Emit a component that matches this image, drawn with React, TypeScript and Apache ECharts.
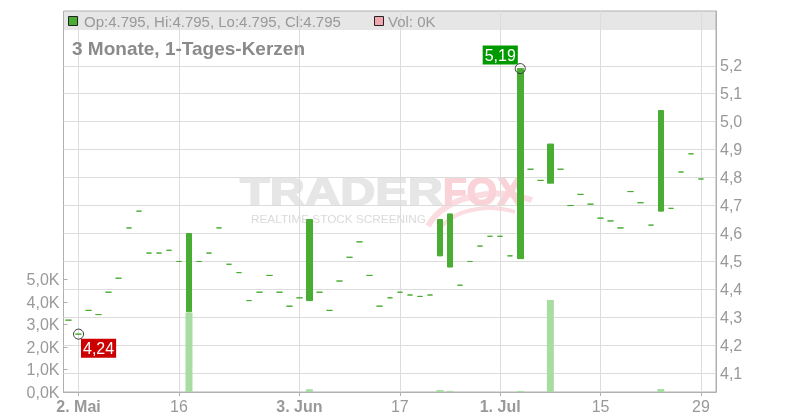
import React, { useEffect, useRef } from "react";
import * as echarts from "echarts";

const dates = [
  "30.04", "02.05", "03.05", "06.05", "07.05", "08.05", "09.05", "10.05", "13.05", "14.05",
  "15.05", "16.05", "17.05", "20.05", "21.05", "22.05", "23.05", "24.05", "27.05", "28.05",
  "29.05", "30.05", "31.05", "03.06", "04.06", "05.06", "06.06", "07.06", "10.06", "11.06",
  "12.06", "13.06", "14.06", "17.06", "18.06", "19.06", "20.06", "21.06", "24.06", "25.06",
  "26.06", "27.06", "28.06", "01.07", "02.07", "03.07", "04.07", "05.07", "08.07", "09.07",
  "10.07", "11.07", "12.07", "15.07", "16.07", "17.07", "18.07", "19.07", "22.07", "23.07",
  "24.07", "25.07", "26.07", "29.07", "30.07",
];

const opens = [
  4.29, 4.24, 4.325, 4.31, 4.39, 4.44, 4.62, 4.68, 4.53, 4.53,
  4.54, 4.5, 4.32, 4.5, 4.53, 4.62, 4.49, 4.46, 4.36, 4.39,
  4.45, 4.39, 4.34, 4.37, 4.36, 4.39, 4.325, 4.43, 4.515, 4.57,
  4.45, 4.34, 4.37, 4.39, 4.38, 4.375, 4.38, 4.52, 4.48, 4.415,
  4.5, 4.555, 4.59, 4.59, 4.52, 4.51, 4.83, 4.79, 4.78, 4.83,
  4.7, 4.74, 4.705, 4.655, 4.645, 4.62, 4.75, 4.71, 4.63, 4.68,
  4.69, 4.82, 4.885, 4.795,
];

const closes = [
  4.29, 4.24, 4.325, 4.31, 4.39, 4.44, 4.62, 4.68, 4.53, 4.53,
  4.54, 4.5, 4.6, 4.5, 4.53, 4.62, 4.49, 4.46, 4.36, 4.39,
  4.45, 4.39, 4.34, 4.37, 4.65, 4.39, 4.325, 4.43, 4.515, 4.57,
  4.45, 4.34, 4.37, 4.39, 4.38, 4.375, 4.38, 4.65, 4.67, 4.415,
  4.5, 4.555, 4.59, 4.59, 4.52, 5.19, 4.83, 4.79, 4.92, 4.83,
  4.7, 4.74, 4.705, 4.655, 4.645, 4.62, 4.75, 4.71, 4.63, 5.04,
  4.69, 4.82, 4.885, 4.795,
];

const volumesK = [
  0, 0, 0, 0, 0, 0, 0, 0, 0, 0,
  0, 0, 3.53, 0, 0, 0, 0, 0, 0, 0,
  0, 0, 0, 0, 0.12, 0, 0, 0, 0, 0,
  0, 0, 0, 0, 0, 0, 0, 0.09, 0.05, 0,
  0, 0, 0, 0, 0, 0.05, 0, 0, 4.1, 0,
  0, 0, 0, 0, 0, 0, 0, 0, 0, 0.13,
  0, 0, 0, 0,
];

const priceTicks = [4.1, 4.2, 4.3, 4.4, 4.5, 4.6, 4.7, 4.8, 4.9, 5.0, 5.1, 5.2];
const xLabelDates = ["02.05", "16.05", "03.06", "17.06", "01.07", "15.07", "29.07"];
const xLabelTexts = ["2. Mai", "16", "3. Jun", "17", "1. Jul", "15", "29"];
const xLabelBold = [true, false, true, false, true, false, false];

const FONT = "'Liberation Sans', Arial, sans-serif";
const GREEN = "#49ad33";
const AXIS = "#b0b0b0";
const LABEL = "#999999";
const GRIDLINE = "#dcdcdc";

export default function App() {
  const ref = useRef<HTMLDivElement>(null);

  useEffect(() => {
    const chart = echarts.init(ref.current!, null, { renderer: "svg" });

    const candles = opens.map((o, i) => {
      const c = closes[i];
      return [o, c, Math.min(o, c), Math.max(o, c)];
    });
    const highs = candles.map((d) => d[3]);
    const lows = candles.map((d) => d[2]);
    const hiVal = Math.max(...highs);
    const loVal = Math.min(...lows);
    const hiIdx = highs.indexOf(hiVal);
    const loIdx = lows.indexOf(loVal);
    const comma = (v: number, d: number) => v.toFixed(d).replace(".", ",");

    const lastIdx = opens.length - 1;
    const legendText = `Op:${opens[lastIdx].toFixed(3)}, Hi:${highs[lastIdx].toFixed(3)}, Lo:${lows[lastIdx].toFixed(3)}, Cl:${closes[lastIdx].toFixed(3)}`;
    const volText = `Vol: ${Math.round(volumesK[lastIdx])}K`;

    const labelMap: Record<string, number> = {};
    xLabelDates.forEach((d, i) => (labelMap[d] = i));
    const isLabel = (_i: number, v: string) => v in labelMap;

    const option: any = {
      animation: false,
      grid: [
        {
          left: 63.5, right: 84, top: 11, bottom: 28,
          show: true, borderColor: AXIS, borderWidth: 1, backgroundColor: "transparent",
        },
        { left: 63.5, right: 84, top: 279.7, bottom: 28, show: false },
      ],
      xAxis: [
        {
          type: "category", gridIndex: 0, data: dates, boundaryGap: true,
          axisLine: { show: true, lineStyle: { color: AXIS } },
          axisTick: {
            show: true, alignWithLabel: true, length: 4,
            interval: isLabel, lineStyle: { color: AXIS },
          },
          axisLabel: {
            interval: isLabel, margin: 6, color: LABEL, fontSize: 16, fontFamily: FONT,
            formatter: (v: string) => {
              const k = labelMap[v];
              if (k === undefined) return "";
              return xLabelBold[k] ? `{b|${xLabelTexts[k]}}` : xLabelTexts[k];
            },
            rich: { b: { fontWeight: "bold", color: LABEL, fontSize: 16, fontFamily: FONT } },
          },
          splitLine: { show: false },
        },
        { type: "category", gridIndex: 1, data: dates, boundaryGap: true, show: false },
      ],
      yAxis: [
        {
          type: "value", gridIndex: 0, position: "right", min: 4.033, max: 5.396,
          minInterval: 0.1, maxInterval: 0.1,
          axisLine: { show: true, lineStyle: { color: AXIS } },
          axisTick: { show: true, inside: true, length: 4, customValues: priceTicks, lineStyle: { color: AXIS } },
          axisLabel: {
            customValues: priceTicks, margin: 4, color: LABEL, fontSize: 16, fontFamily: FONT,
            formatter: (v: number) => (v < 4.05 || v > 5.25 ? "" : comma(v, 1)),
          },
          splitLine: { show: false },
        },
        {
          type: "value", gridIndex: 1, position: "left", min: 0, max: 5, interval: 1,
          axisLine: { show: false },
          axisTick: { show: true, inside: true, length: 4, lineStyle: { color: AXIS } },
          axisLabel: {
            margin: 4, color: LABEL, fontSize: 16, fontFamily: FONT,
            formatter: (v: number) => comma(v, 1) + "K",
          },
          splitLine: { show: false },
        },
      ],
      graphic: [
        { type: "rect", z: -10, shape: { x: 63.5, y: 11, width: 652.5, height: 19 }, style: { fill: "#e6e6e6" } },
        {
          type: "bezierCurve", z: -9,
          shape: { x1: 428, y1: 226, cpx1: 445, cpy1: 196, cpx2: 495, cpy2: 186, x2: 532, y2: 200 },
          style: { stroke: "#fbdde1", lineWidth: 6, fill: "none" },
        },
        {
          type: "bezierCurve", z: -9,
          shape: { x1: 442, y1: 226, cpx1: 458, cpy1: 208, cpx2: 492, cpy2: 204, x2: 515, y2: 212 },
          style: { stroke: "#fbdde1", lineWidth: 4, fill: "none" },
        },
        {
          type: "text", z: -8, x: 240, y: 191, scaleX: 1.25,
          style: {
            text: "TRADER", font: `bold 39px ${FONT}`, fill: "#e6e6e6", stroke: "#e6e6e6", lineWidth: 1.5,
            verticalAlign: "middle", textVerticalAlign: "middle",
          },
        },
        {
          type: "text", z: -8, x: 443, y: 191,
          style: {
            text: "FOX", font: `bold 39px ${FONT}`, fill: "#fad3d8", stroke: "#fad3d8", lineWidth: 1.5,
            verticalAlign: "middle", textVerticalAlign: "middle",
          },
        },
        {
          type: "text", z: -8, x: 251, y: 219.5, scaleX: 1.18,
          style: { text: "REALTIME STOCK SCREENING", font: `10px ${FONT}`, fill: "#dadada", verticalAlign: "middle", textVerticalAlign: "middle" },
        },
        { type: "rect", z: 10, shape: { x: 68.5, y: 16.5, width: 9, height: 9 }, style: { fill: GREEN, stroke: "#222", lineWidth: 1 } },
        {
          type: "text", z: 10, x: 84, y: 21.5,
          style: { text: legendText, font: `15px ${FONT}`, fill: LABEL, verticalAlign: "middle", textVerticalAlign: "middle" },
        },
        { type: "rect", z: 10, shape: { x: 374.5, y: 16.5, width: 9, height: 9 }, style: { fill: "#f2a7b0", stroke: "#222", lineWidth: 1 } },
        {
          type: "text", z: 10, x: 388, y: 21.5,
          style: { text: volText, font: `15px ${FONT}`, fill: LABEL, verticalAlign: "middle", textVerticalAlign: "middle" },
        },
        {
          type: "text", z: 10, x: 72, y: 48,
          style: { text: "3 Monate, 1-Tages-Kerzen", font: `bold 19px ${FONT}`, fill: "#8a8a8a", verticalAlign: "middle", textVerticalAlign: "middle" },
        },
      ],
      series: [
        {
          type: "line", xAxisIndex: 0, yAxisIndex: 0, data: [], silent: true, z: 1,
          markLine: {
            z: 1, silent: true, symbol: ["none", "none"], animation: false,
            label: { show: false },
            emphasis: { disabled: true },
            lineStyle: { color: GRIDLINE, width: 1, type: "solid" },
            data: [
              ...priceTicks.map((v) => ({ yAxis: v })),
              ...xLabelDates.map((d) => ({ xAxis: d })),
            ],
          },
        },
        {
          type: "bar", xAxisIndex: 1, yAxisIndex: 1, data: volumesK, barWidth: 7, z: 2,
          itemStyle: { color: "#a9dca2" }, silent: true,
        },
        {
          type: "candlestick", xAxisIndex: 0, yAxisIndex: 0, data: candles, barWidth: 6, z: 3,
          itemStyle: { color: GREEN, color0: GREEN, borderColor: GREEN, borderColor0: GREEN, borderWidth: 1 },
          markPoint: {
            symbol: "circle", symbolSize: 10, z: 5,
            itemStyle: { color: "rgba(0,0,0,0)", borderColor: "#333", borderWidth: 1 },
            label: {
              show: true, position: "inside", color: "#fff", fontSize: 16, fontFamily: FONT,
              lineHeight: 16, padding: [2, 2, 1, 2],
              formatter: (p: any) => p.data.name,
            },
            data: [
              {
                name: comma(hiVal, 2), coord: [dates[hiIdx], hiVal],
                label: { offset: [-20, -13.5], backgroundColor: "#009900" },
              },
              {
                name: comma(loVal, 2), coord: [dates[loIdx], loVal],
                label: { offset: [20, 14], backgroundColor: "#cc0000" },
              },
            ],
          },
        },
      ],
    };

    chart.setOption(option);
    return () => chart.dispose();
  }, []);

  return <div ref={ref} style={{ position: "fixed", left: 0, top: 0, width: 800, height: 420 }} />;
}
